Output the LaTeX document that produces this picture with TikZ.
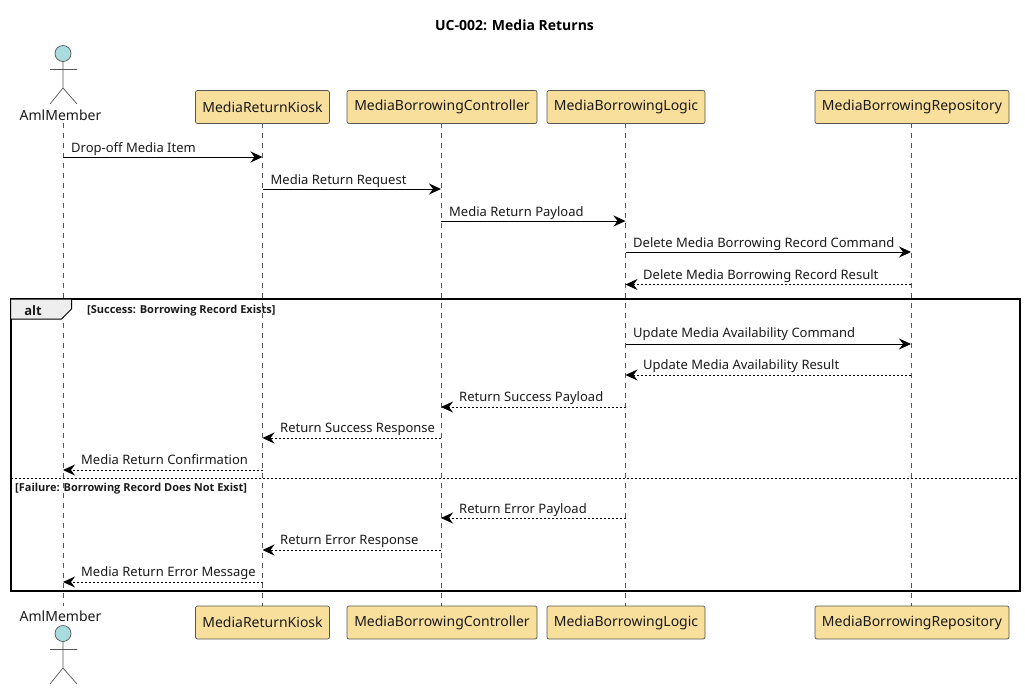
\documentclass[tikz,border=0pt]{standalone}
\usepackage{fontspec}
\setmainfont{Noto Sans}
\newfontfamily\boldf{Open Sans}
\usetikzlibrary{arrows.meta,calc}
\definecolor{partfill}{HTML}{F8DF9C}
\definecolor{actfill}{HTML}{A9DCDF}
\definecolor{edgegray}{HTML}{555555}
\definecolor{tabfill}{HTML}{EEEEEE}
\definecolor{inkc}{HTML}{1A1A1A}
\tikzset{
 part/.style={draw=edgegray,fill=partfill,rounded corners=2pt,line width=.7pt,minimum height=33pt,inner sep=0pt,font=\fontsize{14}{16}\selectfont,text=inkc},
 actname/.style={font=\fontsize{14}{16}\selectfont,text=inkc,inner sep=0pt},
 stick/.style={draw=edgegray,line width=.7pt},
 head/.style={circle,draw=edgegray,fill=actfill,line width=.7pt,minimum size=16pt,inner sep=0pt},
 life/.style={draw=edgegray,line width=.7pt,dash pattern=on 5pt off 5pt},
 msg/.style={black,line width=1pt,-{Stealth[length=12pt,width=11pt,inset=4pt]}},
 ret/.style={msg,dash pattern=on 2pt off 2pt},
 lab/.style={font=\fontsize{13}{15}\selectfont,text=inkc,inner sep=0pt,anchor=base west},
 cond/.style={font=\boldf\bfseries\fontsize{11}{12}\selectfont,text=inkc,inner sep=0pt,anchor=base west},
 frm/.style={draw=black,line width=2pt},
}
\begin{document}
\begin{tikzpicture}[x=1pt,y=-1pt]
\useasboundingbox (0,0) rectangle (1025,689);
\node[font=\boldf\bfseries\fontsize{14}{16}\selectfont,text=black,inner sep=0pt] (title) at (514.5,25) {UC-002: Media Returns};
% anchors of lifelines
\coordinate (A) at (63,123);
\coordinate (K) at (262.5,123);
\coordinate (C) at (441,123);
\coordinate (L) at (625.5,123);
\coordinate (R) at (911,123);
\coordinate (Ab) at (63,606);
\coordinate (Kb) at (262.5,606);
\coordinate (Cb) at (441,606);
\coordinate (Lb) at (625.5,606);
\coordinate (Rb) at (911,606);
\draw[life] (A) -- (Ab);
\draw[life] (K) -- (Kb);
\draw[life] (C) -- (Cb);
\draw[life] (L) -- (Lb);
\draw[life] (R) -- (Rb);
% participants
\node[part,minimum width=134pt] (kt) at (262.5,107) {MediaReturnKiosk};
\node[part,minimum width=190pt] (ct) at (442,107) {MediaBorrowingController};
\node[part,minimum width=158pt] (lt) at (626,107) {MediaBorrowingLogic};
\node[part,minimum width=194pt] (rt) at (912,107) {MediaBorrowingRepository};
\node[part,minimum width=134pt] (kb) at (262.5,622.5) {MediaReturnKiosk};
\node[part,minimum width=190pt] (cb) at (442,622.5) {MediaBorrowingController};
\node[part,minimum width=158pt] (lb) at (626,622.5) {MediaBorrowingLogic};
\node[part,minimum width=194pt] (rb) at (912,622.5) {MediaBorrowingRepository};
% actors
\node[actname] (at) at (60.5,115) {AmlMember};
\node[head] (ah) at (63,53.5) {};
\draw[stick] (ah.south) -- (63,88) (50,69.5) -- (77,69.5) (50,104) -- (63,88) -- (77,104);
\node[actname] (ab) at (60.5,616) {AmlMember};
\node[head] (ahb) at (63,633.5) {};
\draw[stick] (ahb.south) -- (63,668) (50,649.5) -- (77,649.5) (50,684) -- (63,668) -- (77,684);
% frame
\draw[frm] (10.5,299) rectangle (1019.5,590.5);
\filldraw[fill=tabfill,draw=black,line width=1pt] (10.5,299) -- (71.5,299) -- (71.5,309) -- (61.5,319) -- (10.5,319) -- cycle;
\node[font=\boldf\bfseries\fontsize{13}{15}\selectfont,text=inkc,inner sep=0pt] (alt) at (33,311) {alt};
\node[cond] (c1) at (87,313) {[Success: Borrowing Record Exists]};
\draw[black,line width=.8pt,dash pattern=on 2pt off 2pt] (10.5,478) -- (1019.5,478);
\node[cond] (c2) at (15,491) {[Failure: Borrowing Record Does Not Exist]};
% message levels
\foreach \n/\y in {1/157,2/189,3/221,4/252,5/284.5,6/344,7/375,8/407,9/438,10/470,11/518,12/550,13/582}
  \coordinate (y\n) at (0,\y);
\draw[msg] (A |- y1) -- (K |- y1);
\draw[msg] (K |- y2) -- (C |- y2);
\draw[msg] (C |- y3) -- (L |- y3);
\draw[msg] (L |- y4) -- (R |- y4);
\draw[ret] (R |- y5) -- (L |- y5);
\draw[msg] (L |- y6) -- (R |- y6);
\draw[ret] (R |- y7) -- (L |- y7);
\draw[ret] (L |- y8) -- (C |- y8);
\draw[ret] (C |- y9) -- (K |- y9);
\draw[ret] (K |- y10) -- (A |- y10);
\draw[ret] (L |- y11) -- (C |- y11);
\draw[ret] (C |- y12) -- (K |- y12);
\draw[ret] (K |- y13) -- (A |- y13);
% labels
\node[lab] (t1) at (71,152) {Drop-off Media Item};
\node[lab] (t2) at (270.5,184) {Media Return Request};
\node[lab] (t3) at (449,216) {Media Return Payload};
\node[lab] (t4) at (633,247) {Delete Media Borrowing Record Command};
\node[lab] (t5) at (643,279) {Delete Media Borrowing Record Result};
\node[lab] (t6) at (633,337) {Update Media Availability Command};
\node[lab] (t7) at (643,369) {Update Media Availability Result};
\node[lab] (t8) at (459,401) {Return Success Payload};
\node[lab] (t9) at (280,432) {Return Success Response};
\node[lab] (t10) at (81,464) {Media Return Confirmation};
\node[lab] (t11) at (459,513) {Return Error Payload};
\node[lab] (t12) at (280,544) {Return Error Response};
\node[lab] (t13) at (81,576) {Media Return Error Message};
\end{tikzpicture}
\end{document}
